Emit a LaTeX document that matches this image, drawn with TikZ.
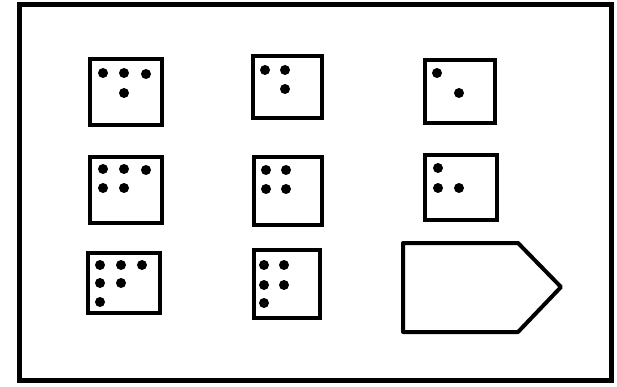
\documentclass[tikz,border=0pt]{standalone}
\begin{document}
\begin{tikzpicture}[x=1pt,y=-1pt,
  frame/.style={draw=black,line width=4.5pt},
  card/.style={draw=black,line width=4pt,line join=miter},
  dot/.style={fill=black,draw=none}]
\useasboundingbox (0,0) rectangle (617,387);
\draw[frame] (19.5,4.5) rectangle (611.5,380.5);
% row 1
\draw[card] (90,59) rectangle (162,125);
\foreach \p in {(103,73),(124,73),(146,74),(124,93)} \fill[dot] \p circle (5);
\draw[card] (253,56) rectangle (322,118);
\foreach \p in {(265,70),(285,70),(285,89)} \fill[dot] \p circle (5);
\draw[card] (425,60) rectangle (495,123);
\foreach \p in {(437,73),(459,93)} \fill[dot] \p circle (5);
% row 2
\draw[card] (90,157) rectangle (162,223);
\foreach \p in {(103,169),(124,169),(146,170),(103,188),(124,188)} \fill[dot] \p circle (5);
\draw[card] (254,157) rectangle (322,225);
\foreach \p in {(266,170),(286,170),(266,189),(286,189)} \fill[dot] \p circle (5);
\draw[card] (425,155) rectangle (497,220);
\foreach \p in {(438,168),(438,188),(459,188)} \fill[dot] \p circle (5);
% row 3
\draw[card] (88,253) rectangle (160,313);
\foreach \p in {(100,265),(121,265),(142,265),(100,283),(121,283),(100,302)} \fill[dot] \p circle (5);
\draw[card] (254,250) rectangle (320,318);
\foreach \p in {(264,265),(284,265),(264,285),(284,285),(264,303)} \fill[dot] \p circle (5);
% pentagon
\draw[card,line join=round] (403,243) -- (518,243) -- (561,287) -- (518,332) -- (403,332) -- cycle;
\end{tikzpicture}
\end{document}
